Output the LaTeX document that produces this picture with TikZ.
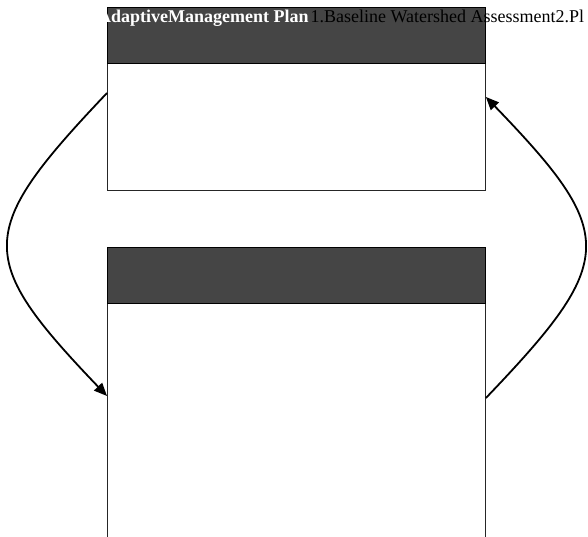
\documentclass[tikz,border=0pt]{standalone}
\usepackage{fontspec}
\setmainfont{Liberation Serif}
\usetikzlibrary{arrows.meta,positioning}

\begin{document}
\begin{tikzpicture}[x=1pt, y=-1pt,
  head/.style={draw=black, fill=black!73, minimum width=378pt, minimum height=56pt,
               anchor=north west, inner sep=0pt, line width=1.2pt},
  body/.style={draw=black!85, fill=white, minimum width=378pt, anchor=north west,
               inner sep=0pt, line width=0.9pt},
  loop/.style={line width=1.8pt, -{Triangle[length=13pt,width=11pt]}}
]
  \useasboundingbox (0,0) rectangle (588,537);
  \node[body, minimum height=127pt] (planbody) at (107,63) {};
  \node[head] (planhead) at (107,7) {};
  \node[body, minimum height=260pt] (assessbody) at (107,303) {};
  \node[head] (assesshead) at (107,247) {};
  \node[anchor=base west, inner sep=0pt, font=\fontsize{18}{20}\selectfont] (title) at (98,23)
    {\textcolor{white}{\bfseries AdaptiveManagement Plan}\kern2pt 1.Baseline Watershed Assessment2.Pl};

  \draw[loop] ([yshift=-30pt]planbody.north west) .. controls (-25,232) and (-25,258) .. ([yshift=-93pt]assessbody.north west);
  \draw[loop] ([yshift=-95pt]assessbody.north east) .. controls (618,260) and (618,234) .. ([yshift=-34pt]planbody.north east);
\end{tikzpicture}
\end{document}
